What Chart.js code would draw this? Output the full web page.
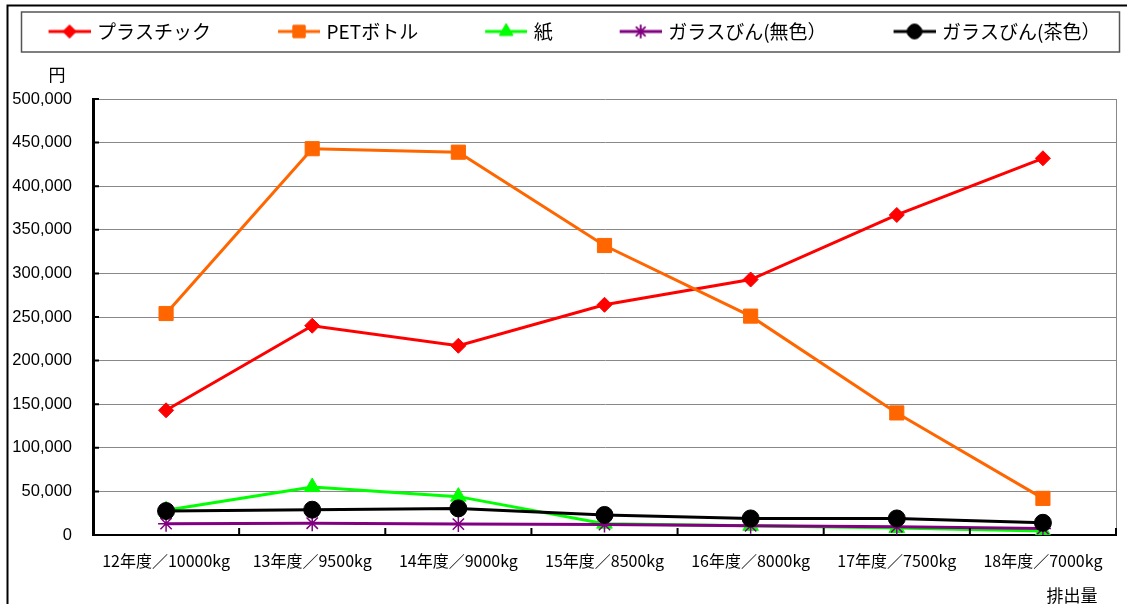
<!DOCTYPE html>
<html>
<head>
<meta charset="utf-8">
<script src="https://cdn.jsdelivr.net/npm/chart.js@4/dist/chart.umd.min.js"></script>
<style>
  html, body { margin: 0; padding: 0; background: #fff; }
  #wrap { width: 1127px; height: 604px; position: relative; }
</style>
</head>
<body>
<div id="wrap"><canvas id="chartLine"></canvas></div>
<script>
// 年度ごとの排出量と金額（円）
const categories = ['12年度／10000kg', '13年度／9500kg', '14年度／9000kg', '15年度／8500kg', '16年度／8000kg', '17年度／7500kg', '18年度／7000kg'];
const plastic   = [143000, 240000, 217000, 264000, 293000, 367000, 432000];
const pet       = [254000, 443000, 439000, 332000, 251000, 140000, 42000];
const paper     = [28500, 55000, 44000, 13000, 10500, 8000, 4500];
const glassClear = [13000, 13500, 12500, 12000, 10500, 9500, 7500];
const glassBrown = [27500, 29000, 30500, 23000, 19000, 19000, 14000];
const yTicks = [0, 50000, 100000, 150000, 200000, 250000, 300000, 350000, 400000, 450000, 500000];

const series = [
  { label: 'プラスチック', data: plastic, color: '#FF0000', style: 'rectRot', radius: 7.5 },
  { label: 'PETボトル', data: pet, color: '#FF6600', style: 'rect', radius: 10 },
  { label: '紙', data: paper, color: '#00FF00', style: 'triangle', radius: 9 },
  { label: 'ガラスびん(無色）', data: glassClear, color: '#800080', style: 'star', radius: 8 },
  { label: 'ガラスびん(茶色）', data: glassBrown, color: '#000000', style: 'circle', radius: 8.5 }
];

// legend marker: line + point, blank space on the left
function legendIcon(s) {
  const c = document.createElement('canvas');
  c.width = 102; c.height = 20;
  const g = c.getContext('2d');
  g.strokeStyle = s.color; g.lineWidth = 3;
  g.beginPath(); g.moveTo(60, 10); g.lineTo(102, 10); g.stroke();
  g.fillStyle = s.color;
  g.lineWidth = s.style === 'star' ? 1.5 : 1;
  Chart.helpers.drawPoint(g, { pointStyle: s.style, radius: s.radius * 0.85, rotation: 0, borderWidth: g.lineWidth }, 81, 10);
  g.fill();
  g.stroke();
  return c;
}

const framePlugin = {
  id: 'frame',
  beforeInit(chart) {
    const lg = chart.legend;
    if (lg && !lg._patched) {
      const fit = lg.fit;
      lg.fit = function () { fit.call(this); this.height = 87; };
      lg._patched = true;
    }
  },
  beforeDraw(chart) {
    const ctx = chart.ctx;
    ctx.save();
    ctx.fillStyle = '#fff';
    ctx.fillRect(0, 0, chart.width, chart.height);
    ctx.strokeStyle = '#000';
    ctx.lineWidth = 2;
    ctx.beginPath();
    ctx.moveTo(7.5, chart.height);
    ctx.lineTo(7.5, 5.5);
    ctx.lineTo(chart.width, 5.5);
    ctx.stroke();
    ctx.strokeStyle = '#555';
    ctx.lineWidth = 1.5;
    ctx.strokeRect(21.5, 12, 1098, 40);
    ctx.restore();
  },
  afterDraw(chart) {
    const ctx = chart.ctx;
    const a = chart.chartArea;
    const xs = chart.scales.x, ys = chart.scales.y;
    ctx.save();
    ctx.strokeStyle = '#888';
    ctx.lineWidth = 1;
    ctx.beginPath();
    ctx.moveTo(a.right + 0.5, a.top);
    ctx.lineTo(a.right + 0.5, a.bottom);
    ctx.stroke();
    ctx.strokeStyle = '#000';
    ctx.lineWidth = 2;
    ctx.beginPath();
    ys.ticks.forEach((t, i) => {
      const py = ys.getPixelForTick(i);
      ctx.moveTo(a.left, py);
      ctx.lineTo(a.left + 6, py);
    });
    for (let i = 0; i <= categories.length; i++) {
      const px = xs.getPixelForValue(i - 0.5);
      ctx.moveTo(px, a.bottom);
      ctx.lineTo(px, a.bottom - 7);
    }
    ctx.stroke();
    ctx.fillStyle = '#000';
    ctx.font = '17px "Noto Sans CJK JP"';
    ctx.textAlign = 'center';
    ctx.textBaseline = 'middle';
    ctx.fillText('円', 57, 75);
    ctx.fillText('排出量', 1072, 596);
    ctx.restore();
  }
};

const ctxLine = document.getElementById('chartLine');

new Chart(ctxLine, {
  type: 'line',
  data: {
    labels: categories,
    datasets: series.map((s, i) => ({
      label: s.label,
      data: s.data,
      borderColor: s.color,
      backgroundColor: s.color,
      borderWidth: 3,
      tension: 0,
      pointStyle: s.style,
      pointRadius: s.radius,
      pointHoverRadius: s.radius,
      pointBackgroundColor: s.color,
      pointBorderColor: s.color,
      pointBorderWidth: s.style === 'star' ? 1.5 : 1,
      order: series.length - i
    }))
  },
  options: {
    responsive: true,
    maintainAspectRatio: false,
    animation: false,
    layout: { padding: { top: 12, right: 9, bottom: 0, left: -26 } },
    plugins: {
      tooltip: { enabled: false },
      legend: {
        position: 'top',
        align: 'center',
        labels: {
          usePointStyle: true,
          pointStyleWidth: 96,
          padding: 10,
          color: '#000',
          font: { family: '"Noto Sans CJK JP"', size: 19 },
          generateLabels: (chart) => series.map((s, i) => ({
            text: s.label,
            pointStyle: legendIcon(s),
            fillStyle: s.color,
            strokeStyle: s.color,
            lineWidth: 0,
            hidden: false,
            datasetIndex: i
          }))
        }
      }
    },
    scales: {
      x: {
        offset: true,
        grid: { display: true, drawOnChartArea: false, drawTicks: false },
        border: { color: '#000', width: 2 },
        ticks: {
          color: '#000',
          padding: 16,
          maxRotation: 0,
          autoSkip: false,
          font: { family: '"Noto Sans CJK JP"', size: 16 }
        },
        afterFit: (scale) => { scale.height = 69; }
      },
      y: {
        min: 0,
        max: 500000,
        grid: { color: '#888', lineWidth: 1, drawTicks: false },
        border: { color: '#000', width: 3 },
        afterBuildTicks: (scale) => { scale.ticks = yTicks.map(v => ({ value: v })); },
        ticks: {
          color: '#000',
          padding: 21,
          font: { family: '"Liberation Sans", Arial, sans-serif', size: 16.5 },
          callback: (v) => Number(v).toLocaleString('en-US')
        },
        afterFit: (scale) => { scale.width = 119; }
      }
    }
  },
  plugins: [framePlugin]
});
</script>
</body>
</html>
